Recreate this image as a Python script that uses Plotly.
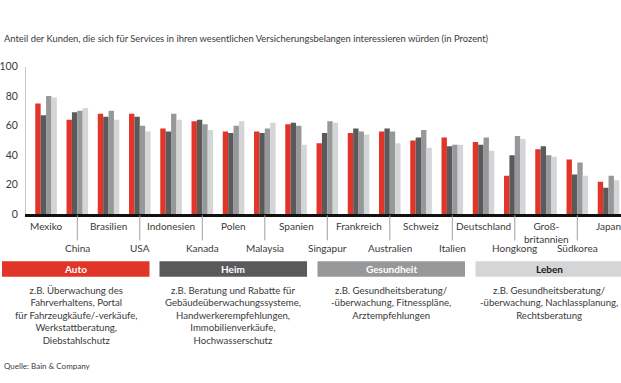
import plotly.graph_objects as go

W, H = 621, 383

countries = ["Mexiko", "China", "Brasilien", "USA", "Indonesien", "Kanada", "Polen",
             "Malaysia", "Spanien", "Singapur", "Frankreich", "Australien", "Schweiz",
             "Italien", "Deutschland", "Hongkong", "Groß-<br>britannien", "Südkorea", "Japan"]

auto = [75, 64, 68, 68, 58, 63, 56, 56, 61, 48, 55, 56, 50, 52, 49, 26, 44, 37, 22]
heim = [67, 69, 66, 66, 56, 64, 55, 55, 62, 55, 58, 58, 52, 46, 47, 40, 46, 27, 18]
gesundheit = [80, 70, 70, 60, 68, 61, 60, 58, 60, 63, 56, 56, 57, 47, 52, 53, 40, 35, 26]
leben = [79, 72, 64, 56, 64, 57, 63, 62, 47, 62, 54, 48, 45, 47, 43, 51, 39, 26, 23]

series_names = ["Auto", "Heim", "Gesundheit", "Leben"]
series_colors = ["#e2352a", "#5a5a5c", "#97989a", "#d4d5d6"]
series_text_colors = ["white", "white", "white", "#1a1a1a"]
series_desc = [
    "z.B. Überwachung des<br>Fahrverhaltens, Portal<br>für Fahrzeugkäufe/-verkäufe,<br>Werkstattberatung,<br>Diebstahlschutz",
    "z.B. Beratung und Rabatte für<br>Gebäudeüberwachungssysteme,<br>Handwerkerempfehlungen,<br>Immobilienverkäufe,<br>Hochwasserschutz",
    "z.B. Gesundheitsberatung/<br>-überwachung, Fitnesspläne,<br>Arztempfehlungen",
    "z.B. Gesundheitsberatung/<br>-überwachung, Nachlassplanung,<br>Rechtsberatung",
]

y_ticks = [0, 20, 40, 60, 80, 100]

FONT = "Lato"
TXT = "#3a3a3a"

idx = list(range(len(countries)))
fig = go.Figure()
for name, vals, col in zip(series_names, [auto, heim, gesundheit, leben], series_colors):
    fig.add_trace(go.Bar(x=idx, y=vals, name=name, marker=dict(color=col, line=dict(width=0)),
                         showlegend=False, hoverinfo="y"))

# plot area in pixels
x_left, y_base, y_top = 24, 215, 62.5
unit = 31.35
x0_range = -0.5 - (44.2 - 15.675 - x_left) / unit
x1_range = x0_range + (W - x_left) / unit

fig.update_layout(
    width=W, height=H,
    margin=dict(l=0, r=0, t=0, b=0),
    paper_bgcolor="white", plot_bgcolor="white",
    barmode="group", bargap=0.31, bargroupgap=0,
    font=dict(family=FONT, color=TXT, size=10),
    xaxis=dict(domain=[x_left / W, 1], range=[x0_range, x1_range],
               showticklabels=False, showgrid=False, zeroline=False,
               showline=True, linecolor="#111111", linewidth=3, fixedrange=True),
    yaxis=dict(domain=[1 - y_base / H, 1 - y_top / H], range=[0, 100],
               tickvals=y_ticks, ticktext=[str(v) for v in y_ticks],
               showgrid=False, zeroline=False, showline=True, linecolor="#c8c8c8",
               linewidth=1, ticks="", ticklabelstandoff=5,
               tickfont=dict(size=10.5, color=TXT), fixedrange=True),
)

shapes = []
annotations = []

# x labels: alternating rows
for i, c in enumerate(countries):
    if i % 2 == 0:
        annotations.append(dict(x=i, xref="x", y=1 - 219 / H, yref="paper", text=c,
                                showarrow=False, xanchor="center", yanchor="top",
                                font=dict(size=10, color=TXT)))
    else:
        shapes.append(dict(type="line", xref="x", x0=i, x1=i, yref="paper",
                           y0=1 - 216 / H, y1=1 - 242 / H,
                           line=dict(color="#a0a0a0", width=1)))
        annotations.append(dict(x=i, xref="x", y=1 - 242 / H, yref="paper", text=c,
                                showarrow=False, xanchor="center", yanchor="top",
                                font=dict(size=10, color=TXT)))

# title
annotations.append(dict(x=0, xref="paper", y=1 - 33.5 / H, yref="paper",
                        text="Anteil der Kunden, die sich für Services in ihren wesentlichen Versicherungsbelangen interessieren würden (in Prozent)",
                        showarrow=False, xanchor="left", yanchor="middle",
                        font=dict(size=9.4, color=TXT)))

# legend boxes
box_x = [0, 158, 316.5, 475]
box_w = 148
for bx, name, col, tcol, desc in zip(box_x, series_names, series_colors, series_text_colors, series_desc):
    shapes.append(dict(type="rect", xref="paper", yref="paper",
                       x0=bx / W, x1=min(bx + box_w, W) / W,
                       y0=1 - 279.5 / H, y1=1 - 263.5 / H,
                       fillcolor=col, line=dict(width=0)))
    cx = (bx + box_w / 2) / W
    annotations.append(dict(x=cx, xref="paper", y=1 - 271.5 / H, yref="paper",
                            text="<b>" + name + "</b>", showarrow=False,
                            xanchor="center", yanchor="middle",
                            font=dict(size=10, color=tcol)))
    annotations.append(dict(x=cx, xref="paper", y=1 - 285.5 / H, yref="paper",
                            text=desc, showarrow=False, xanchor="center", yanchor="top",
                            align="center", font=dict(size=9.6, color=TXT)))

annotations.append(dict(x=0, xref="paper", y=1 - 372 / H, yref="paper",
                        text="Quelle: Bain & Company", showarrow=False,
                        xanchor="left", yanchor="middle", font=dict(size=8, color=TXT)))

fig.update_layout(shapes=shapes, annotations=annotations)
fig.write_html("out.html", config={"displayModeBar": False},
               post_script="document.body.style.margin='0';document.body.style.overflow='hidden';")
